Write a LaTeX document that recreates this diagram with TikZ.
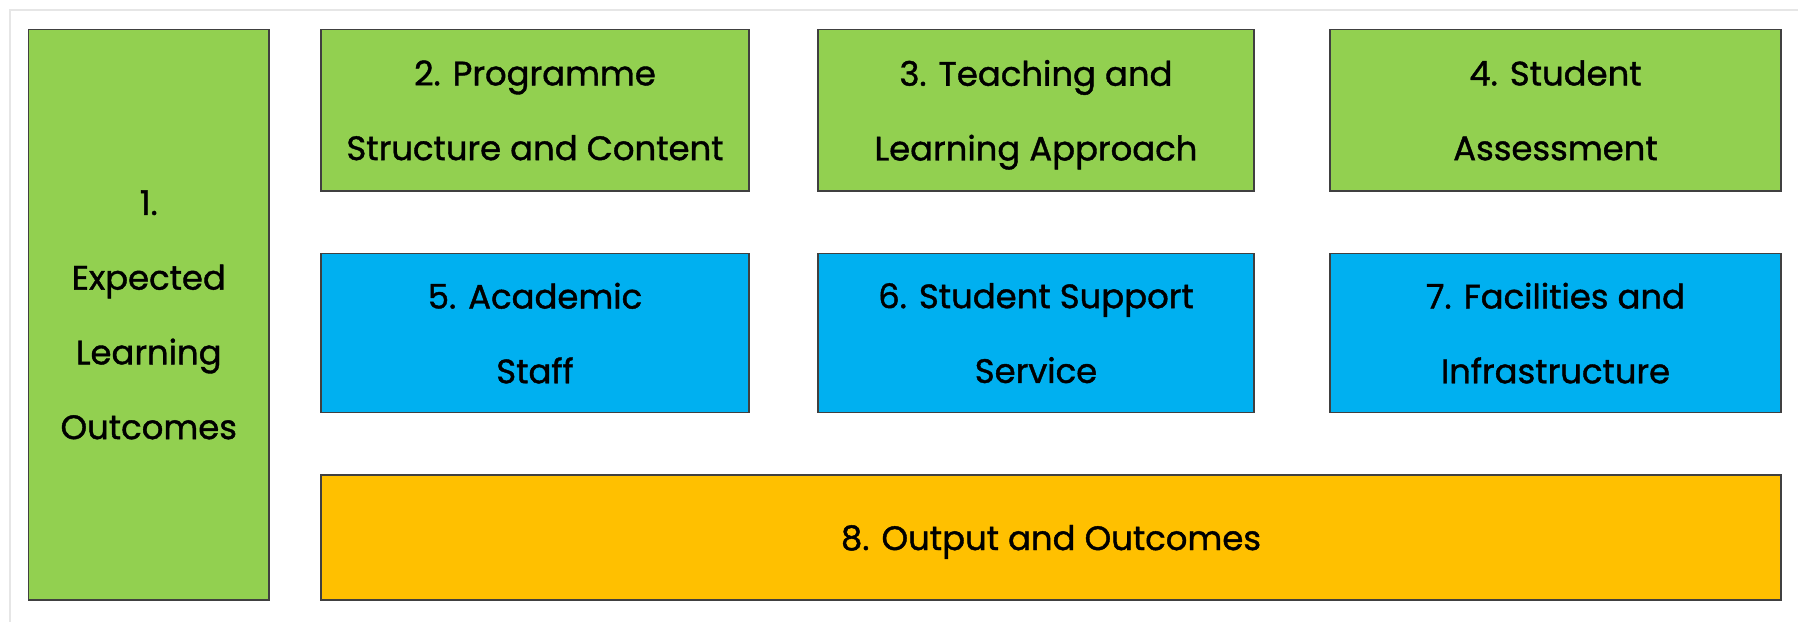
\documentclass[tikz,border=0pt]{standalone}
\usepackage{fontspec}
\setmainfont{Poppins}[FakeBold=1.2]
\begin{document}
\begin{tikzpicture}[x=1bp,y=-1bp,
  box/.style={draw=boxline,line width=1.2bp,inner sep=0pt,align=center,
    text depth=0pt,font=\fontsize{34}{75}\selectfont},
  grn/.style={box,fill=cgreen},
  blu/.style={box,fill=cblue},
  org/.style={box,fill=corange}]
\definecolor{cgreen}{HTML}{92D050}
\definecolor{cblue}{HTML}{00B0F0}
\definecolor{corange}{HTML}{FFC000}
\definecolor{boxline}{HTML}{404040}
\definecolor{frame}{HTML}{E6E6E6}
\useasboundingbox (0,0) rectangle (1798,622);
\draw[frame,line width=1.5bp] (10,622) -- (10,10) -- (1798,10);
\node[grn,minimum width=240.5bp,minimum height=570.5bp] (b1) at (148.75,314.75) {1.\\Expected\\Learning\\Outcomes};
\node[grn,minimum width=428bp,minimum height=161.5bp] (b2) at (535,110.25) {2. Programme\\Structure and Content};
\node[grn,minimum width=436bp,minimum height=161.5bp] (b3) at (1036,110.25) {3. Teaching and\\Learning Approach};
\node[grn,minimum width=451bp,minimum height=161.5bp] (b4) at (1555.5,110.25) {4. Student\\Assessment};
\node[blu,minimum width=428bp,minimum height=159bp] (b5) at (535,333) {5. Academic\\Staff};
\node[blu,minimum width=436bp,minimum height=159bp] (b6) at (1036,333) {6. Student Support\\Service};
\node[blu,minimum width=451bp,minimum height=159bp] (b7) at (1555.5,333) {7. Facilities and\\Infrastructure};
\node[org,minimum width=1460bp,minimum height=125bp] (b8) at (1051,537.5) {8. Output and Outcomes};
\end{tikzpicture}
\end{document}
